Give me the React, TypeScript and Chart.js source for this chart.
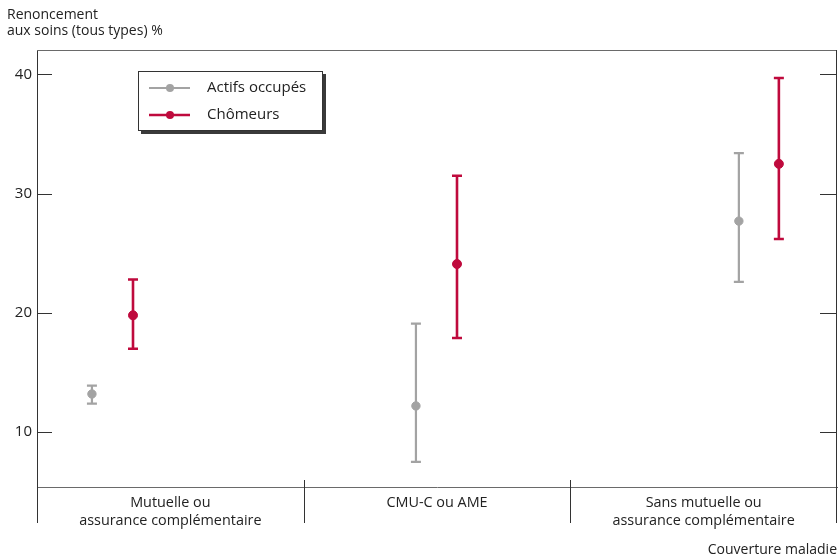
import { useEffect, useRef } from "react";
import { Chart, registerables } from "chart.js";
Chart.register(...registerables);

const categories: string[][] = [
  ["Mutuelle ou", "assurance complémentaire"],
  ["CMU-C ou AME"],
  ["Sans mutuelle ou", "assurance complémentaire"],
];
const seriesNames = ["Actifs occupés", "Chômeurs"];
const actifsX = [0.206, 1.421, 2.632];
const actifsValues = [13.2, 12.2, 27.7];
const actifsLow = [12.4, 7.5, 22.6];
const actifsHigh = [13.9, 19.1, 33.4];
const chomeursX = [0.36, 1.575, 2.782];
const chomeursValues = [19.8, 24.1, 32.5];
const chomeursLow = [17.0, 17.9, 26.2];
const chomeursHigh = [22.8, 31.5, 39.7];
const yTicks = [10, 20, 30, 40];
const yTitle = ["Renoncement", "aux soins (tous types) %"];
const xTitle = "Couverture maladie";

const GREY = "#a3a3a3";
const RED = "#bf0a3d";
const FONT = "'Open Sans', 'Noto Sans', sans-serif";

export default function App() {
  const ref = useRef<HTMLCanvasElement>(null);
  useEffect(() => {
    document.body.style.margin = "0";
    const canvas = ref.current!;
    const errs = [
      { xs: actifsX, lo: actifsLow, hi: actifsHigh, color: GREY, w: 2.2 },
      { xs: chomeursX, lo: chomeursLow, hi: chomeursHigh, color: RED, w: 2.6 },
    ];
    const decor = {
      id: "decor",
      beforeDatasetsDraw(chart: any) {
        const { ctx, chartArea, scales } = chart;
        const { left, right, top, bottom } = chartArea;
        const x = scales.x;
        const y = scales.y;
        ctx.save();
        ctx.lineWidth = 1;
        ctx.strokeStyle = "#6a6a6a";
        ctx.beginPath();
        ctx.moveTo(left, top + 0.5);
        ctx.lineTo(right, top + 0.5);
        ctx.stroke();
        ctx.strokeStyle = "#333";
        for (let i = 0; i <= categories.length; i++) {
          const px = Math.round(x.getPixelForValue(i)) + (i === categories.length ? -0.5 : 0.5);
          const y0 = i === 0 ? bottom : i === categories.length ? top : bottom - 7;
          ctx.beginPath();
          ctx.moveTo(px, y0);
          ctx.lineTo(px, bottom + 36);
          ctx.stroke();
        }
        for (const t of yTicks) {
          const py = Math.round(y.getPixelForValue(t)) + 0.5;
          ctx.beginPath();
          ctx.moveTo(left, py);
          ctx.lineTo(left + 15, py);
          ctx.moveTo(right - 17, py);
          ctx.lineTo(right, py);
          ctx.stroke();
        }
        for (const e of errs) {
          ctx.strokeStyle = e.color;
          ctx.lineWidth = e.w;
          e.xs.forEach((xv, i) => {
            const px = x.getPixelForValue(xv);
            const pl = y.getPixelForValue(e.lo[i]);
            const ph = y.getPixelForValue(e.hi[i]);
            ctx.beginPath();
            ctx.moveTo(px, pl);
            ctx.lineTo(px, ph);
            ctx.moveTo(px - 5, pl);
            ctx.lineTo(px + 5, pl);
            ctx.moveTo(px - 5, ph);
            ctx.lineTo(px + 5, ph);
            ctx.stroke();
          });
        }
        ctx.restore();
      },
      afterDraw(chart: any) {
        const { ctx } = chart;
        ctx.save();
        ctx.fillStyle = "#222";
        ctx.font = `14px ${FONT}`;
        ctx.textBaseline = "middle";
        ctx.textAlign = "left";
        ctx.fillText(yTitle[0], 7, 15);
        ctx.fillText(yTitle[1], 7, 31);
        const bx = 138, by = 71, bw = 185, bh = 60;
        ctx.fillStyle = "#3a3a3a";
        ctx.fillRect(bx + 3, by + 3, bw, bh);
        ctx.fillStyle = "#fff";
        ctx.fillRect(bx, by, bw, bh);
        ctx.strokeStyle = "#333";
        ctx.lineWidth = 1;
        ctx.strokeRect(bx + 0.5, by + 0.5, bw - 1, bh - 1);
        const colors = [GREY, RED];
        const rows = [88, 115];
        seriesNames.forEach((n, i) => {
          ctx.strokeStyle = colors[i];
          ctx.fillStyle = colors[i];
          ctx.lineWidth = i === 0 ? 2.2 : 2.6;
          ctx.beginPath();
          ctx.moveTo(149, rows[i]);
          ctx.lineTo(190, rows[i]);
          ctx.stroke();
          ctx.beginPath();
          ctx.arc(170, rows[i], 4, 0, Math.PI * 2);
          ctx.fill();
          ctx.fillStyle = "#222";
          ctx.font = `15px ${FONT}`;
          ctx.fillText(n, 207, rows[i]);
        });
        ctx.restore();
      },
    };

    const chart = new Chart(canvas, {
      type: "scatter",
      data: {
        datasets: [
          {
            label: seriesNames[0],
            data: actifsX.map((xv, i) => ({ x: xv, y: actifsValues[i] })),
            backgroundColor: GREY,
            borderColor: GREY,
            pointRadius: 4.2,
          },
          {
            label: seriesNames[1],
            data: chomeursX.map((xv, i) => ({ x: xv, y: chomeursValues[i] })),
            backgroundColor: RED,
            borderColor: RED,
            pointRadius: 4.5,
          },
        ],
      },
      options: {
        animation: false,
        responsive: false,
        maintainAspectRatio: false,
        layout: { autoPadding: false, padding: { left: 0, top: 50, right: 2, bottom: 0 } },
        plugins: { legend: { display: false }, tooltip: { enabled: false } },
        scales: {
          x: {
            type: "linear",
            min: 0,
            max: 3,
            afterBuildTicks: (s: any) => {
              s.ticks = categories.map((_, i) => ({ value: i + 0.5 }));
            },
            afterFit: (s: any) => {
              s.height = 71;
            },
            grid: { display: false, drawTicks: false },
            border: { display: true, color: "#6a6a6a", width: 1 },
            ticks: {
              padding: 7,
              color: "#222",
              maxRotation: 0,
              autoSkip: false,
              font: { family: FONT, size: 14.4, lineHeight: 1.25 },
              callback: (v: any) => categories[Math.floor(Number(v))] as any,
            },
            title: {
              display: true,
              text: xTitle,
              align: "end",
              color: "#222",
              font: { family: FONT, size: 14 },
              padding: { top: 0, bottom: 0 },
            },
          },
          y: {
            min: 5.4,
            max: 42.05,
            afterBuildTicks: (s: any) => {
              s.ticks = yTicks.map((v) => ({ value: v }));
            },
            afterFit: (s: any) => {
              s.width = 37;
            },
            grid: { display: false, drawTicks: false },
            border: { display: true, color: "#333", width: 1 },
            ticks: {
              padding: 5,
              color: "#222",
              font: { family: FONT, size: 15 },
            },
          },
        },
      },
      plugins: [decor],
    });
    return () => chart.destroy();
  }, []);
  return (
    <div style={{ width: 839, height: 558 }}>
      <canvas ref={ref} width={839} height={558} style={{ width: 839, height: 558, display: "block" }} />
    </div>
  );
}
